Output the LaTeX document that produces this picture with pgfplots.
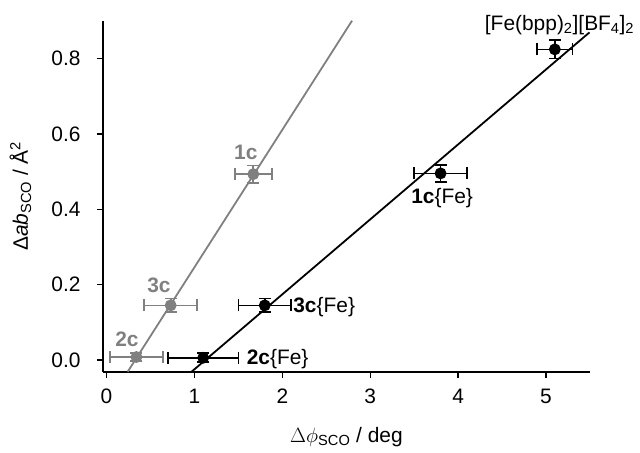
\documentclass[border=0pt]{standalone}
\usepackage{pgfplots}
\pgfplotsset{compat=1.18}
\usepackage{fontspec}
\setmainfont{Liberation Sans}
\usetikzlibrary{calc}
\definecolor{ltgray}{RGB}{128,128,128}
\begin{document}
\begin{tikzpicture}
\begin{axis}[name=ax, scale only axis, width=487bp, height=351bp,
  xmin=-0.04, xmax=5.5, ymin=-0.031, ymax=0.90,
  axis x line*=bottom, axis y line*=left,
  axis line style={-, line width=1.7bp},
  tick align=outside, major tick length=6bp,
  tick style={line width=1.4bp, black},
  xtick={0,1,...,5}, ytick={0,0.2,...,0.8},
  yticklabel style={/pgf/number format/.cd, fixed, fixed zerofill, precision=1, /tikz/.cd, xshift=-13bp},
  xticklabel style={yshift=-8bp},
  /pgf/number format/assume math mode=true,
  tick label style={font=\fontsize{21}{24}\selectfont},
  label style={font=\fontsize{21}{24}\selectfont},
  xlabel={$\Delta\phi$\textsubscript{SCO} / deg},
  xlabel style={at={(axis description cs:0.5,0)}, anchor=base, yshift=-71bp},
  ylabel={Δ\textit{ab}\textsubscript{SCO} / Å\textsuperscript{2}},
  ylabel style={at={($(axis description cs:0,0.5)+(-75bp,0)$)}, rotate=0, anchor=base},
  clip=false,
  every axis plot/.append style={line width=1.8bp},
  error bars/error mark options={rotate=90, mark size=6bp, line width=1.7bp},
]
% fit lines
\addplot[ltgray, no markers] coordinates {(0.241,-0.031) (2.793,0.90)};
\addplot[black, no markers] coordinates {(0.968,-0.031) (5.494,0.869)};
% gray: 1c, 2c, 3c
\addplot[ltgray, only marks, mark=*, mark size=5bp,
  error bars/.cd, x dir=both, x explicit, y dir=both, y explicit,
  error bar style={line width=1.7bp, ltgray}]
  coordinates {
  (0.34,0.008) +- (0.30,0.010)
  (0.73,0.145) +- (0.30,0.018)
  (1.67,0.493) +- (0.21,0.023)
};
% black: {Fe} compounds
\addplot[black, only marks, mark=*, mark size=5bp,
  error bars/.cd, x dir=both, x explicit, y dir=both, y explicit,
  error bar style={line width=1.7bp, black}]
  coordinates {
  (1.10,0.006) +- (0.40,0.012)
  (1.80,0.145) +- (0.30,0.018)
  (3.80,0.495) +- (0.30,0.023)
  (5.10,0.824) +- (0.20,0.024)
};
\begin{scope}[font=\fontsize{21}{24}\selectfont]
\node[ltgray, anchor=base] at (axis cs:1.585,0.532) {\textbf{1c}};
\node[ltgray, anchor=base] at (axis cs:0.597,0.179) {\textbf{3c}};
\node[ltgray, anchor=base] at (axis cs:0.233,0.037) {\textbf{2c}};
\node[anchor=base west, inner sep=0pt] at (axis cs:1.593,-0.013) {\textbf{2c}\{Fe\}};
\node[anchor=base west, inner sep=0pt] at (axis cs:2.123,0.125) {\textbf{3c}\{Fe\}};
\node[anchor=base] at (axis cs:3.818,0.414) {\textbf{1c}\{Fe\}};
\node[anchor=base] at (axis cs:5.153,0.875) {[Fe(bpp)\textsubscript{2}][BF\textsubscript{4}]\textsubscript{2}};
\end{scope}
\end{axis}
\pgfresetboundingbox
\path[use as bounding box] ([xshift=-103bp,yshift=-80.3bp]ax.south west) rectangle ([xshift=50bp,yshift=20.7bp]ax.north east);
\end{tikzpicture}
\end{document}
